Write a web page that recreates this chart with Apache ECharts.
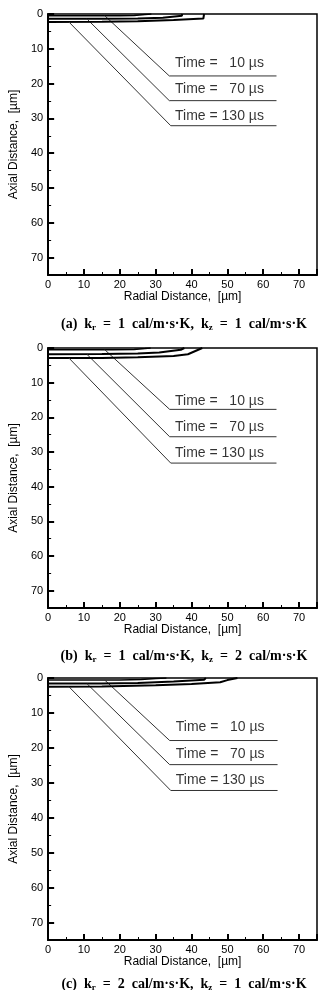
<!DOCTYPE html>
<html>
<head>
<meta charset="utf-8">
<script src="https://cdn.jsdelivr.net/npm/echarts/dist/echarts.min.js"></script>
<style>
  html, body { margin: 0; padding: 0; background: #fff; }
  #chart { width: 324px; height: 990px; }
</style>
</head>
<body>
<div id="chart"></div>
<script>
// tick labels / names
var xTickStep = 10
var yTickStep = 10
var timeLabels = ['Time =   10 µs', 'Time =   70 µs', 'Time = 130 µs']
var panelTags = ['(a)', '(b)', '(c)']
var krValues = ['1', '1', '2']
var kzValues = ['1', '2', '1']

// contour curves [radial, axial] per panel: 10, 70, 130 us
var curvesA = [
  [[0, 0.5], [20, 0.5], [24, 0.4], [27, 0.15], [28.8, 0]],
  [[0, 1.4], [15, 1.38], [25, 1.3], [32, 1.1], [37.3, 0.5], [37.4, 0]],
  [[0, 2.3], [15, 2.25], [25, 2.1], [35, 1.7], [43.3, 1.3], [43.5, 0]]
]
var curvesB = [
  [[0, 0.5], [18, 0.5], [24, 0.4], [27, 0.15], [28.6, 0]],
  [[0, 1.8], [15, 1.75], [25, 1.6], [31, 1.3], [37, 0.5], [38, 0]],
  [[0, 2.9], [15, 2.85], [25, 2.7], [35, 2.3], [39, 1.8], [43, 0]]
]
var curvesC = [
  [[0, 0.6], [20, 0.55], [26, 0.4], [30, 0.15], [33, 0]],
  [[0, 1.6], [15, 1.55], [25, 1.4], [35, 1.0], [43.5, 0.5], [44, 0]],
  [[0, 2.5], [15, 2.45], [30, 2.1], [40, 1.7], [48, 1.2], [50, 0.6], [52.8, 0]]
]

// leader lines: start on curve -> elbow -> end
var leadersA = [
  [[15.8, 0.5], [33.8, 17.8], [63.7, 17.8]],
  [[10.8, 1.4], [33.8, 24.9], [63.7, 24.9]],
  [[5.8, 2.3], [34.2, 32.1], [63.7, 32.1]]
]
var leadersB = [
  [[15.8, 0.5], [33.9, 17.7], [63.7, 17.7]],
  [[10.8, 1.8], [33.9, 25.6], [63.7, 25.6]],
  [[5.8, 2.9], [34.2, 33.2], [63.7, 33.2]]
]
var leadersC = [
  [[15.8, 0.6], [33.9, 17.9], [64, 17.9]],
  [[10.8, 1.6], [33.9, 24.8], [64, 24.8]],
  [[5.8, 2.5], [34.2, 32.2], [64, 32.2]]
]

// label anchor points
var labelPosA = [[35.4, 14.2], [35.4, 21.6], [35.4, 29.3]]
var labelPosB = [[35.4, 15.2], [35.4, 22.7], [35.4, 30.2]]
var labelPosC = [[35.6, 14.0], [35.6, 21.7], [35.6, 29.1]]

var curves = [curvesA, curvesB, curvesC]
var leaders = [leadersA, leadersB, leadersC]
var labelPos = [labelPosA, labelPosB, labelPosC]

var gridTops = [14, 348, 678]
var gridHeights = [261, 260, 262]
var titleTops = [311, 643, 971]

var sans = 'Liberation Sans, Arial, sans-serif'
var serif = 'Liberation Serif, Times New Roman, serif'

var Chart = echarts.init(document.getElementById('chart'), null, { renderer: 'canvas' })

var grids = [], xAxes = [], yAxes = [], series = [], titles = []

for (var i = 0; i < 3; i++) {
  grids.push({
    left: 42, width: 275, top: gridTops[i], height: gridHeights[i],
    show: true, borderColor: '#000', borderWidth: 1.5
  })
  xAxes.push({
    gridIndex: i, type: 'value', min: 0, max: 75, interval: xTickStep,
    position: 'bottom',
    axisLine: { onZero: false, lineStyle: { color: '#000', width: 2 } },
    axisTick: { inside: true, length: 6, lineStyle: { color: '#000', width: 2 } },
    minorTick: { show: true, splitNumber: 2, length: 3, lineStyle: { color: '#000', width: 1 } },
    splitLine: { show: false },
    axisLabel: { color: '#000', fontSize: 11, fontFamily: sans, margin: 4, showMaxLabel: false },
    name: 'Radial Distance,  [µm]', nameLocation: 'middle', nameGap: 15,
    nameTextStyle: { color: '#000', fontSize: 12, fontFamily: sans }
  })
  yAxes.push({
    gridIndex: i, type: 'value', min: 0, max: 75, interval: yTickStep, inverse: true,
    axisLine: { onZero: false, lineStyle: { color: '#000', width: 2 } },
    axisTick: { inside: true, length: 6, lineStyle: { color: '#000', width: 2 } },
    minorTick: { show: true, splitNumber: 2, length: 3, lineStyle: { color: '#000', width: 1 } },
    splitLine: { show: false },
    axisLabel: { color: '#000', fontSize: 11, fontFamily: sans, margin: 5, showMaxLabel: false },
    name: 'Axial Distance,  [µm]', nameLocation: 'middle', nameRotate: 90, nameGap: 17,
    nameTextStyle: { color: '#000', fontSize: 12, fontFamily: sans }
  })
  titles.push({
    left: 179, top: titleTops[i], textAlign: 'center',
    text: '{b|' + panelTags[i] + '  k}{s|r}{b|  =  ' + krValues[i] + '  cal/m·s·K,  k}{s|z}{b|  =  ' + kzValues[i] + '  cal/m·s·K}',
    textStyle: {
      rich: {
        b: { fontFamily: serif, fontWeight: 'bold', fontSize: 14, color: '#000', lineHeight: 16 },
        s: { fontFamily: serif, fontWeight: 'bold', fontSize: 9, color: '#000', lineHeight: 16, padding: [7, 0, 0, 0] }
      }
    }
  })

  for (var c = 0; c < 3; c++) {
    series.push({
      type: 'line', xAxisIndex: i, yAxisIndex: i, data: curves[i][c],
      showSymbol: false, symbol: 'none', silent: true,
      lineStyle: { color: '#000', width: c === 0 ? 1.5 : 2 }
    })
    series.push({
      type: 'line', xAxisIndex: i, yAxisIndex: i, data: leaders[i][c],
      showSymbol: false, symbol: 'none', silent: true,
      lineStyle: { color: '#333', width: 1 }
    })
  }
  series.push({
    type: 'scatter', xAxisIndex: i, yAxisIndex: i, symbolSize: 0, silent: true,
    data: labelPos[i].map(function (p, k) { return [p[0], p[1], timeLabels[k]] }),
    label: {
      show: true, position: 'right', distance: 0,
      formatter: function (p) { return p.value[2] },
      color: '#000', fontSize: 14, fontFamily: sans
    }
  })
}

var option = {
  backgroundColor: '#fff',
  animation: false,
  title: titles,
  grid: grids,
  xAxis: xAxes,
  yAxis: yAxes,
  series: series
}
Chart.setOption(option)
</script>
</body>
</html>
